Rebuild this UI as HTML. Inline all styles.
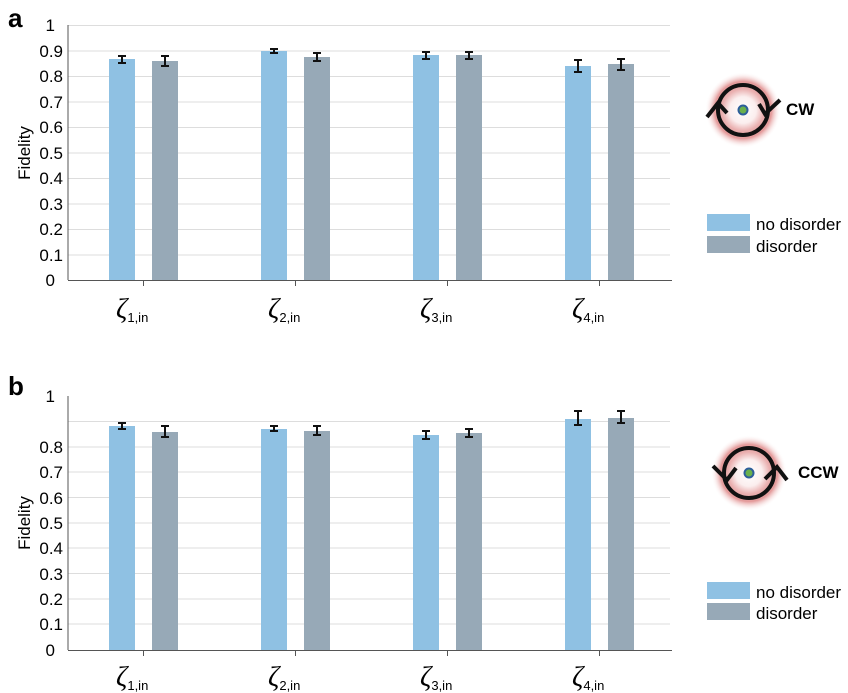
<!DOCTYPE html>
<html><head><style>body{margin:0;background:#fff}svg{display:block}</style></head><body>
<svg width="848" height="693" xmlns="http://www.w3.org/2000/svg" font-family="Liberation Sans, sans-serif">
<defs><radialGradient id="g"><stop offset="0" stop-color="#fff"/><stop offset="0.35" stop-color="#fbeeee"/><stop offset="0.55" stop-color="#eab0b0"/><stop offset="0.75" stop-color="#e49a9a"/><stop offset="1" stop-color="#fff" stop-opacity="0"/></radialGradient></defs>
<g id="A">
<text x="8" y="27" font-size="26" font-weight="bold">a</text>
<g stroke="#ddd" stroke-width="1">
<line x1="68" x2="670" y1="25.5" y2="25.5"/><line x1="68" x2="670" y1="51" y2="51"/><line x1="68" x2="670" y1="76.5" y2="76.5"/><line x1="68" x2="670" y1="102" y2="102"/><line x1="68" x2="670" y1="127.5" y2="127.5"/><line x1="68" x2="670" y1="153" y2="153"/><line x1="68" x2="670" y1="178.5" y2="178.5"/><line x1="68" x2="670" y1="204" y2="204"/><line x1="68" x2="670" y1="229.5" y2="229.5"/><line x1="68" x2="670" y1="255" y2="255"/></g>
<g font-size="17" text-anchor="end"><text x="55" y="31">1</text><text x="63" y="57">0.9</text><text x="63" y="82">0.8</text><text x="63" y="108">0.7</text><text x="63" y="133">0.6</text><text x="63" y="159">0.5</text><text x="63" y="184">0.4</text><text x="63" y="210">0.3</text><text x="63" y="235">0.2</text><text x="63" y="261">0.1</text><text x="55" y="286">0</text></g>
<text transform="translate(30,153) rotate(-90)" font-size="17" text-anchor="middle">Fidelity</text>
<g fill="#8fc1e3"><rect x="109" y="59" width="26" height="221"/><rect x="261" y="51" width="26" height="229"/><rect x="413" y="55" width="26" height="225"/><rect x="565" y="66" width="26" height="214"/></g>
<g fill="#97a9b7"><rect x="152" y="61" width="26" height="219"/><rect x="304" y="57" width="26" height="223"/><rect x="456" y="55" width="26" height="225"/><rect x="608" y="64" width="26" height="216"/></g>
<g stroke="#111" stroke-width="2"><path d="M122 56v7M118 56h8M118 63h8"/><path d="M165 56v10M161 56h8M161 66h8"/><path d="M274 49v4M270 49h8M270 53h8"/><path d="M317 53v8M313 53h8M313 61h8"/><path d="M426 52v7M422 52h8M422 59h8"/><path d="M469 52v7M465 52h8M465 59h8"/><path d="M578 60v12M574 60h8M574 72h8"/><path d="M621 59v11M617 59h8M617 70h8"/></g>
<line x1="68" x2="68" y1="25" y2="280" stroke="#555"/><line x1="68" x2="672" y1="280.5" y2="280.5" stroke="#555"/>
<g stroke="#555"><line x1="143.5" x2="143.5" y1="280" y2="286"/><line x1="295.5" x2="295.5" y1="280" y2="286"/><line x1="447.5" x2="447.5" y1="280" y2="286"/><line x1="599.5" x2="599.5" y1="280" y2="286"/></g>
<g font-family="Liberation Serif, serif" font-style="italic" font-size="28"><text x="116" y="318">ζ<tspan font-family="Liberation Sans" font-style="normal" font-size="13" dy="4">1,in</tspan></text><text x="268" y="318">ζ<tspan font-family="Liberation Sans" font-style="normal" font-size="13" dy="4">2,in</tspan></text><text x="420" y="318">ζ<tspan font-family="Liberation Sans" font-style="normal" font-size="13" dy="4">3,in</tspan></text><text x="572" y="318">ζ<tspan font-family="Liberation Sans" font-style="normal" font-size="13" dy="4">4,in</tspan></text></g>
<circle cx="743" cy="110" r="38" fill="url(#g)"/>
<circle cx="743" cy="110" r="25" fill="none" stroke="#111" stroke-width="4"/>
<path d="M707 117L718 103L727 113M759 104L765 114L780 100" stroke="#111" stroke-width="4" fill="none"/>
<circle cx="743" cy="110" r="4.5" fill="#6ab04c" stroke="#2d5d9a" stroke-width="2"/>
<text x="786" y="115" font-size="17" font-weight="bold">CW</text>
<rect x="707" y="214" width="43" height="17" fill="#8fc1e3"/><rect x="707" y="236" width="43" height="17" fill="#97a9b7"/>
<text x="756" y="230" font-size="17">no disorder</text><text x="756" y="252" font-size="17">disorder</text>
</g>
<g>
<text x="8" y="395" font-size="26" font-weight="bold">b</text>
<g stroke="#ddd"><line x1="68" x2="670" y1="421.5" y2="421.5"/><line x1="68" x2="670" y1="447" y2="447"/><line x1="68" x2="670" y1="472" y2="472"/><line x1="68" x2="670" y1="497.5" y2="497.5"/><line x1="68" x2="670" y1="523" y2="523"/><line x1="68" x2="670" y1="548" y2="548"/><line x1="68" x2="670" y1="573.5" y2="573.5"/><line x1="68" x2="670" y1="599" y2="599"/><line x1="68" x2="670" y1="624" y2="624"/></g>
<g font-size="17" text-anchor="end"><text x="55" y="402">1</text><text x="63" y="453">0.8</text><text x="63" y="478">0.7</text><text x="63" y="504">0.6</text><text x="63" y="529">0.5</text><text x="63" y="554">0.4</text><text x="63" y="580">0.3</text><text x="63" y="605">0.2</text><text x="63" y="630">0.1</text><text x="55" y="656">0</text></g>
<text transform="translate(30,523) rotate(-90)" font-size="17" text-anchor="middle">Fidelity</text>
<g fill="#8fc1e3"><rect x="109" y="426" width="26" height="224"/><rect x="261" y="429" width="26" height="221"/><rect x="413" y="435" width="26" height="215"/><rect x="565" y="419" width="26" height="231"/></g>
<g fill="#97a9b7"><rect x="152" y="432" width="26" height="218"/><rect x="304" y="431" width="26" height="219"/><rect x="456" y="433" width="26" height="217"/><rect x="608" y="418" width="26" height="232"/></g>
<g stroke="#111" stroke-width="2"><path d="M122 423v6M118 423h8M118 429h8"/><path d="M165 426v11M161 426h8M161 437h8"/><path d="M274 426v5M270 426h8M270 431h8"/><path d="M317 426v9M313 426h8M313 435h8"/><path d="M426 431v8M422 431h8M422 439h8"/><path d="M469 429v8M465 429h8M465 437h8"/><path d="M578 411v14M574 411h8M574 425h8"/><path d="M621 411v12M617 411h8M617 423h8"/></g>
<line x1="68" x2="68" y1="396" y2="650" stroke="#555"/><line x1="68" x2="672" y1="650.5" y2="650.5" stroke="#555"/>
<g stroke="#555"><line x1="143.5" x2="143.5" y1="650" y2="656"/><line x1="295.5" x2="295.5" y1="650" y2="656"/><line x1="447.5" x2="447.5" y1="650" y2="656"/><line x1="599.5" x2="599.5" y1="650" y2="656"/></g>
<g font-family="Liberation Serif, serif" font-style="italic" font-size="28"><text x="116" y="686">ζ<tspan font-family="Liberation Sans" font-style="normal" font-size="13" dy="4">1,in</tspan></text><text x="268" y="686">ζ<tspan font-family="Liberation Sans" font-style="normal" font-size="13" dy="4">2,in</tspan></text><text x="420" y="686">ζ<tspan font-family="Liberation Sans" font-style="normal" font-size="13" dy="4">3,in</tspan></text><text x="572" y="686">ζ<tspan font-family="Liberation Sans" font-style="normal" font-size="13" dy="4">4,in</tspan></text></g>
<circle cx="749" cy="473" r="38" fill="url(#g)"/>
<circle cx="749" cy="473" r="25" fill="none" stroke="#111" stroke-width="4"/>
<path d="M713 466L727 480L736 468M765 479L777 467L787 480" stroke="#111" stroke-width="4" fill="none"/>
<circle cx="749" cy="473" r="4.5" fill="#6ab04c" stroke="#2d5d9a" stroke-width="2"/>
<text x="798" y="478" font-size="17" font-weight="bold">CCW</text>
<rect x="707" y="582" width="43" height="17" fill="#8fc1e3"/><rect x="707" y="603" width="43" height="17" fill="#97a9b7"/>
<text x="756" y="598" font-size="17">no disorder</text><text x="756" y="619" font-size="17">disorder</text>
</g>
</svg>
</body></html>
